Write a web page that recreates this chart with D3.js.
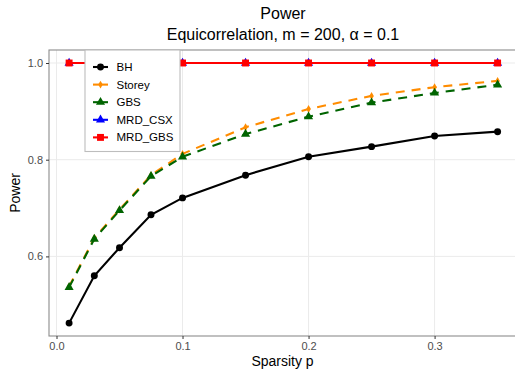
<!DOCTYPE html>
<html>
<head>
<meta charset="utf-8">
<script src="https://cdn.jsdelivr.net/npm/d3@7"></script>
<style>
  body { margin: 0; background: #fff; }
  svg { font-family: Arial, "Liberation Sans", sans-serif; }
</style>
</head>
<body>
<div id="vis"></div>
<script>
// dados
const sparsity = [0.01, 0.03, 0.05, 0.075, 0.1, 0.15, 0.2, 0.25, 0.3, 0.35];
const bh      = [0.462, 0.560, 0.618, 0.686, 0.721, 0.768, 0.806, 0.827, 0.849, 0.858];
const storey  = [0.538, 0.638, 0.697, 0.768, 0.812, 0.867, 0.905, 0.932, 0.950, 0.963];
const gbs     = [0.536, 0.636, 0.695, 0.766, 0.806, 0.853, 0.889, 0.918, 0.938, 0.955];
const mrdCsx  = [1, 1, 1, 1, 1, 1, 1, 1, 1, 1];
const mrdGbs  = [1, 1, 1, 1, 1, 1, 1, 1, 1, 1];
const seriesNames = ["BH", "Storey", "GBS", "MRD_CSX", "MRD_GBS"];
const xTicks = [0, 0.1, 0.2, 0.3];
const yTicks = [0.6, 0.8, 1.0];

const width = 515, height = 375;
const panel = { left: 49, right: 516, top: 50, bottom: 336 };

const series = [
  { name: "BH", values: bh, color: "#000000", dash: null, shape: d3.symbolCircle, size: 38 },
  { name: "Storey", values: storey, color: "#ff8c00", dash: "9,7", shape: d3.symbolDiamond, size: 18 },
  { name: "GBS", values: gbs, color: "#006400", dash: "9,7", shape: d3.symbolTriangle, size: 36 },
  { name: "MRD_CSX", values: mrdCsx, color: "#0000ff", dash: null, shape: d3.symbolTriangle, size: 36 },
  { name: "MRD_GBS", values: mrdGbs, color: "#ff0000", dash: null, shape: d3.symbolSquare, size: 48 }
];

const svg = d3.select("#vis").append("svg")
  .attr("width", width)
  .attr("height", height);

// escalas
const x = d3.scaleLinear().domain([0, 0.35]).range([56.5, 497.6]);
const y = d3.scaleLinear().domain([0.6, 1.0]).range([256.4, 63]);

// grade
const grid = svg.append("g");
grid.selectAll(".gx").data(xTicks).join("line")
  .attr("x1", d => x(d)).attr("x2", d => x(d))
  .attr("y1", panel.top).attr("y2", panel.bottom)
  .attr("stroke", "#ebebeb").attr("stroke-width", 1);
grid.selectAll(".gy").data(yTicks).join("line")
  .attr("x1", panel.left).attr("x2", panel.right)
  .attr("y1", d => y(d)).attr("y2", d => y(d))
  .attr("stroke", "#ebebeb").attr("stroke-width", 1);

// linhas e pontos
const line = d3.line().x((d, i) => x(sparsity[i])).y(d => y(d));
series.forEach(s => {
  svg.append("path")
    .datum(s.values)
    .attr("d", line)
    .attr("fill", "none")
    .attr("stroke", s.color)
    .attr("stroke-width", 2.1)
    .attr("stroke-dasharray", s.dash);
  svg.append("g").selectAll("path").data(s.values).join("path")
    .attr("transform", (d, i) => `translate(${x(sparsity[i])},${y(d)})`)
    .attr("d", d3.symbol().type(s.shape).size(s.size))
    .attr("fill", s.color);
});

// borda do painel
svg.append("rect")
  .attr("x", panel.left).attr("y", panel.top)
  .attr("width", panel.right - panel.left).attr("height", panel.bottom - panel.top)
  .attr("fill", "none").attr("stroke", "#8c8c8c").attr("stroke-width", 1.1);

// eixos
const xAxis = svg.append("g")
  .attr("transform", `translate(0, ${panel.bottom})`)
  .call(d3.axisBottom(x).tickValues(xTicks).tickFormat(d3.format(".1f")).tickSize(3).tickPadding(3));
const yAxis = svg.append("g")
  .attr("transform", `translate(${panel.left}, 0)`)
  .call(d3.axisLeft(y).tickValues(yTicks).tickFormat(d3.format(".1f")).tickSize(3).tickPadding(3));
[xAxis, yAxis].forEach(a => {
  a.select(".domain").remove();
  a.selectAll(".tick line").attr("stroke", "#333");
  a.selectAll(".tick text").attr("fill", "#4d4d4d").style("font-size", "11px")
    .style("font-family", "Arial, 'Liberation Sans', sans-serif");
});

svg.append("text")
  .attr("x", (panel.left + panel.right) / 2)
  .attr("y", 366)
  .attr("text-anchor", "middle")
  .style("font-size", "14px")
  .text("Sparsity p");

svg.append("text")
  .attr("x", -(panel.top + panel.bottom) / 2)
  .attr("y", 20)
  .attr("transform", "rotate(-90)")
  .attr("text-anchor", "middle")
  .style("font-size", "14px")
  .text("Power");

// título
svg.append("text")
  .attr("x", 283).attr("y", 19)
  .attr("text-anchor", "middle")
  .style("font-size", "16px")
  .text("Power");
svg.append("text")
  .attr("x", 283).attr("y", 40)
  .attr("text-anchor", "middle")
  .style("font-size", "16px")
  .text("Equicorrelation, m = 200, α = 0.1");

// legenda
const legend = svg.append("g");
legend.append("rect")
  .attr("x", 85).attr("y", 50)
  .attr("width", 95).attr("height", 101.5)
  .attr("fill", "#fff").attr("stroke", "#bdbdbd").attr("stroke-width", 1.1);
series.forEach((s, i) => {
  const ly = 67 + i * 17.6;
  legend.append("line")
    .attr("x1", 93).attr("x2", 108)
    .attr("y1", ly).attr("y2", ly)
    .attr("stroke", s.color).attr("stroke-width", 2.1);
  legend.append("path")
    .attr("transform", `translate(100.5,${ly})`)
    .attr("d", d3.symbol().type(s.shape).size(s.size))
    .attr("fill", s.color);
  legend.append("text")
    .attr("x", 116.5).attr("y", ly + 4)
    .style("font-size", "11.5px")
    .text(seriesNames[i]);
});
</script>
</body>
</html>
